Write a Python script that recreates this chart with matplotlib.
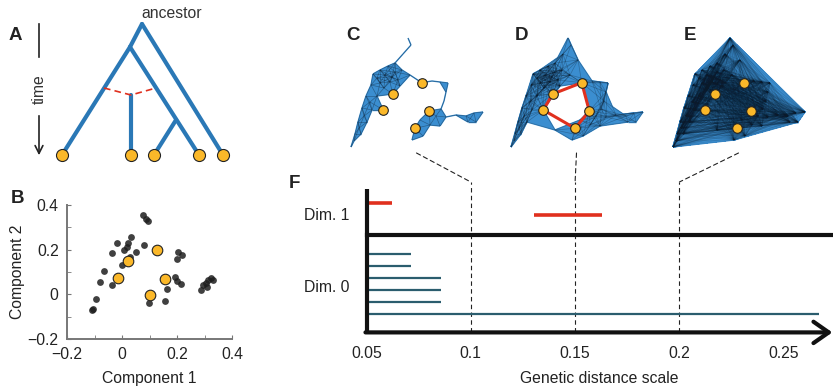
import itertools
import numpy as np
import matplotlib
matplotlib.use('Agg')
import matplotlib.pyplot as plt
from matplotlib.collections import LineCollection, PolyCollection
from matplotlib.patches import ConnectionPatch
import matplotlib.transforms as mtransforms

plt.rcParams['font.family'] = ['Liberation Sans', 'DejaVu Sans']
plt.rcParams['font.size'] = 11.3

W, H = 833, 389

ORANGE = '#fbb829'
TREE_BLUE = '#2a78b6'
CPLX_BLUE = '#3b8ed0'
RED = '#e0301e'
TEAL = '#2b5d6e'

# --- A: genealogy (sketch units)
branch_x0 = [142, 142, 130, 130, 176, 131]
branch_y0 = [24, 24, 47, 47, 120, 95]
branch_x1 = [223, 130, 62, 199, 154, 131]
branch_y1 = [155, 47, 155, 155, 155, 155]
leaf_x = [62, 131, 154, 199, 223]
leaf_y = [155, 155, 155, 155, 155]
recomb_x = [104, 131, 156]
recomb_y = [88, 95, 88]

# --- B: MDS of the samples
comp1 = [0.077, 0.087, 0.095, 0.033, 0.023, -0.019, 0.080, 0.017, 0.008, 0.050,
         -0.037, 0.029, -0.001, -0.064, -0.080, -0.037, -0.095, -0.104, -0.110,
         0.205, 0.219, 0.199, 0.193, 0.201, 0.213, 0.163, 0.099, 0.156,
         0.286, 0.296, 0.305, 0.314, 0.322, 0.330, 0.308]
comp2 = [0.354, 0.336, 0.327, 0.257, 0.232, 0.230, 0.220, 0.212, 0.200, 0.190,
         0.187, 0.167, 0.133, 0.103, 0.055, 0.040, -0.019, -0.064, -0.072,
         0.190, 0.178, 0.157, 0.078, 0.058, 0.048, 0.022, -0.037, -0.031,
         0.018, 0.040, 0.052, 0.063, 0.073, 0.063, 0.033]
sample_c1 = [0.126, 0.023, -0.013, 0.157, 0.102]
sample_c2 = [0.197, 0.148, 0.075, 0.070, -0.004]

# --- C/D/E: point cloud used for the complexes (layout units)
cloud_u = [68, 71, 63, 55, 48, 40, 33, 45, 55, 62, 50, 40, 31, 58,
           37, 52, 44, 60, 78,
           26, 37, 22, 32, 18, 27, 15, 21, 11, 30, 24, 19, 14,
           70, 92, 100, 108, 106, 104, 101,
           96, 106, 100, 90, 83, 72, 80,
           116, 126, 134, 143, 136, 128, 55]
cloud_v = [8, 15, 24, 33, 36, 40, 44, 45, 42, 40, 52, 53, 55, 50,
           48, 47, 58, 56, 30,
           66, 66, 78, 80, 92, 92, 104, 104, 117, 72, 86, 98, 111,
           45, 51, 52, 53, 62, 71, 79,
           86, 87, 96, 95, 106, 110, 90,
           85, 86, 83, 82, 92, 92, 100]
sample_u = [81.7, 52.7, 43.3, 75.0, 89.3]
sample_v = [52.7, 64.0, 80.0, 98.3, 81.0]
scales = [0.1, 0.15, 0.2]
eps_cplx = [16, 30, 1000]

# --- F: barcode (birth, death)
dim0_birth = [0.05, 0.05, 0.05, 0.05, 0.05, 0.05]
dim0_death = [0.2669, 0.0855, 0.0855, 0.0855, 0.0711, 0.0711]
dim1_birth = [0.1303, 0.05]
dim1_death = [0.1628, 0.0623]
f_ticks = [0.05, 0.1, 0.15, 0.2, 0.25]
f_ticklabels = ['0.05', '0.1', '0.15', '0.2', '0.25']

fig = plt.figure(figsize=(W / 100, H / 100), dpi=100)


def px_axes(x0, y0, w, h):
    return fig.add_axes([x0 / W, 1 - (y0 + h) / H, w / W, h / H])


def letter(x, y, s):
    fig.text(x / W, 1 - y / H, s, fontsize=13.5, fontweight='bold',
             ha='center', va='center', color='#222')


# A
ax_a = px_axes(0, 0, 250, 175)
ax_a.set_xlim(0, 250)
ax_a.set_ylim(175, 0)
ax_a.axis('off')
for x0, y0, x1, y1 in zip(branch_x0, branch_y0, branch_x1, branch_y1):
    ax_a.plot([x0, x1], [y0, y1], color=TREE_BLUE, lw=3, solid_capstyle='round')
ax_a.plot(recomb_x, recomb_y, color=RED, lw=1.2, ls=(0, (4, 2.5)))
ax_a.scatter(leaf_x, leaf_y, s=75, c=ORANGE, edgecolors='#222', linewidths=0.8, zorder=3)
ax_a.plot([39, 39], [24, 57], color='#222', lw=1.2)
ax_a.annotate('', xy=(39, 158), xytext=(39, 113),
              arrowprops=dict(arrowstyle='->', lw=1.2, color='#222', mutation_scale=14))
ax_a.text(39, 89, 'time', rotation=90, ha='center', va='center', color='#333')
ax_a.text(141, 13, 'ancestor', ha='left', va='center', color='#333')
letter(15, 35, 'A')

# B
ax_b = px_axes(67, 205, 165, 134)
ax_b.scatter(comp1, comp2, s=24, c='#1e1e1e', alpha=0.85, linewidths=0)
ax_b.scatter(sample_c1, sample_c2, s=58, c=ORANGE, edgecolors='#222', linewidths=0.8, zorder=3)
ax_b.set_xlim(-0.2, 0.4)
ax_b.set_ylim(-0.2, 0.4)
for s in ['top', 'right']:
    ax_b.spines[s].set_visible(False)
for s in ['left', 'bottom']:
    ax_b.spines[s].set_color('#777')
    ax_b.spines[s].set_linewidth(1.4)
ax_b.set_xticks([-0.2, 0, 0.2, 0.4], ['\u22120.2', '0', '0.2', '0.4'])
ax_b.set_yticks([-0.2, 0, 0.2, 0.4], ['\u22120.2', '0', '0.2', '0.4'])
ax_b.set_xticks([-0.1, 0.1, 0.3], minor=True)
ax_b.set_yticks([-0.1, 0.1, 0.3], minor=True)
ax_b.tick_params(which='both', direction='in', length=3, color='#777', labelcolor='#222', pad=6)
ax_b.set_xlabel('Component 1', labelpad=6, color='#222')
ax_b.set_ylabel('Component 2', labelpad=2, color='#222')
letter(18, 199, 'B')

# C, D, E complexes
pts = np.column_stack([cloud_u + sample_u, cloud_v + sample_v])
n = len(pts)
dist = np.hypot(pts[:, None, 0] - pts[None, :, 0], pts[:, None, 1] - pts[None, :, 1])

cplx_axes = []
for k, (off, eps, lab) in enumerate(zip([0, 160, 322], eps_cplx, ['C', 'D', 'E'])):
    ax = px_axes(340 + off, 30, 150, 125)
    ax.set_xlim(0, 150)
    ax.set_ylim(125, 0)
    ax.axis('off')
    edges = [(i, j) for i, j in itertools.combinations(range(n), 2) if dist[i, j] < eps]
    tris = [(i, j, m) for i, j, m in itertools.combinations(range(n), 3)
            if dist[i, j] < eps and dist[j, m] < eps and dist[i, m] < eps]
    segs = [pts[[i, j]] for i, j in edges]
    ax.add_collection(LineCollection(segs, colors=CPLX_BLUE, linewidths=1.0, zorder=1))
    if tris:
        ax.add_collection(PolyCollection([pts[list(t)] for t in tris], facecolors=CPLX_BLUE,
                                         edgecolors='none', zorder=1.5))
    alpha = 0.4 if k == 0 else (0.3 if k == 1 else 0.13)
    ax.add_collection(LineCollection(segs, colors='#0a1a2a', linewidths=0.5, alpha=alpha, zorder=2))
    if lab == 'D':
        cyc = [0, 1, 2, 3, 4, 0]
        ax.plot([sample_u[i] for i in cyc], [sample_v[i] for i in cyc], color=RED, lw=2.2, zorder=3)
    ax.scatter(sample_u, sample_v, s=48, c=ORANGE, edgecolors='#222', linewidths=0.8, zorder=4)
    cplx_axes.append(ax)
letter(353, 36, 'C')
letter(522, 36, 'D')
letter(690, 36, 'E')

# F barcode
f_x1 = 0.05 + 466.5 / 2086
f_top = 12.53
ax_f = px_axes(366.5, 182, 466.5, 150.4)
ax_f.set_xlim(0.05, f_x1)
ax_f.set_ylim(0, f_top)
for s in ax_f.spines.values():
    s.set_visible(False)
ax_f.vlines(scales, 0, f_top, colors='#222', lw=0.8, linestyles=(0, (4, 3)), zorder=1)
for i, (b, d) in enumerate(zip(dim0_birth, dim0_death)):
    ax_f.plot([b, d], [1.5 + i, 1.5 + i], color=TEAL, lw=1.6, solid_capstyle='butt', zorder=2)
for i, (b, d) in enumerate(zip(dim1_birth, dim1_death)):
    ax_f.plot([b, d], [9.75 + i, 9.75 + i], color=RED, lw=2.6, solid_capstyle='butt', zorder=2)
ax_f.plot([0.05, f_x1], [8.15, 8.15], color='#111', lw=3, clip_on=False, zorder=3)
ax_f.plot([0.05, 0.05], [0, 11.97], color='#111', lw=3, clip_on=False, zorder=3,
          solid_capstyle='butt')
ax_f.annotate('', xy=(f_x1 - 0.0003, 0), xytext=(0.0495, 0),
              arrowprops=dict(arrowstyle='->,head_length=0.5,head_width=0.35', lw=3,
                              color='#111', mutation_scale=22, shrinkA=0, shrinkB=0),
              annotation_clip=False)
ax_f.set_xticks(f_ticks, f_ticklabels)
ax_f.set_yticks([])
ax_f.tick_params(axis='x', length=0, pad=10, labelcolor='#222')
ax_f.set_xlabel('Genetic distance scale', labelpad=7, color='#222')
tr = mtransforms.blended_transform_factory(ax_f.transAxes, ax_f.transData)
ax_f.text(-0.0375, 9.78, 'Dim. 1', transform=tr, ha='right', va='center', color='#222')
ax_f.text(-0.0375, 3.73, 'Dim. 0', transform=tr, ha='right', va='center', color='#222')
letter(294, 183, 'F')

for ax, xv in zip(cplx_axes, scales):
    con = ConnectionPatch(xyA=(76.5, 123), coordsA='data', axesA=ax,
                          xyB=(xv, f_top), coordsB='data', axesB=ax_f,
                          color='#222', lw=0.8, ls=(0, (4, 3)))
    fig.add_artist(con)

fig.savefig('out.png', dpi=100)
